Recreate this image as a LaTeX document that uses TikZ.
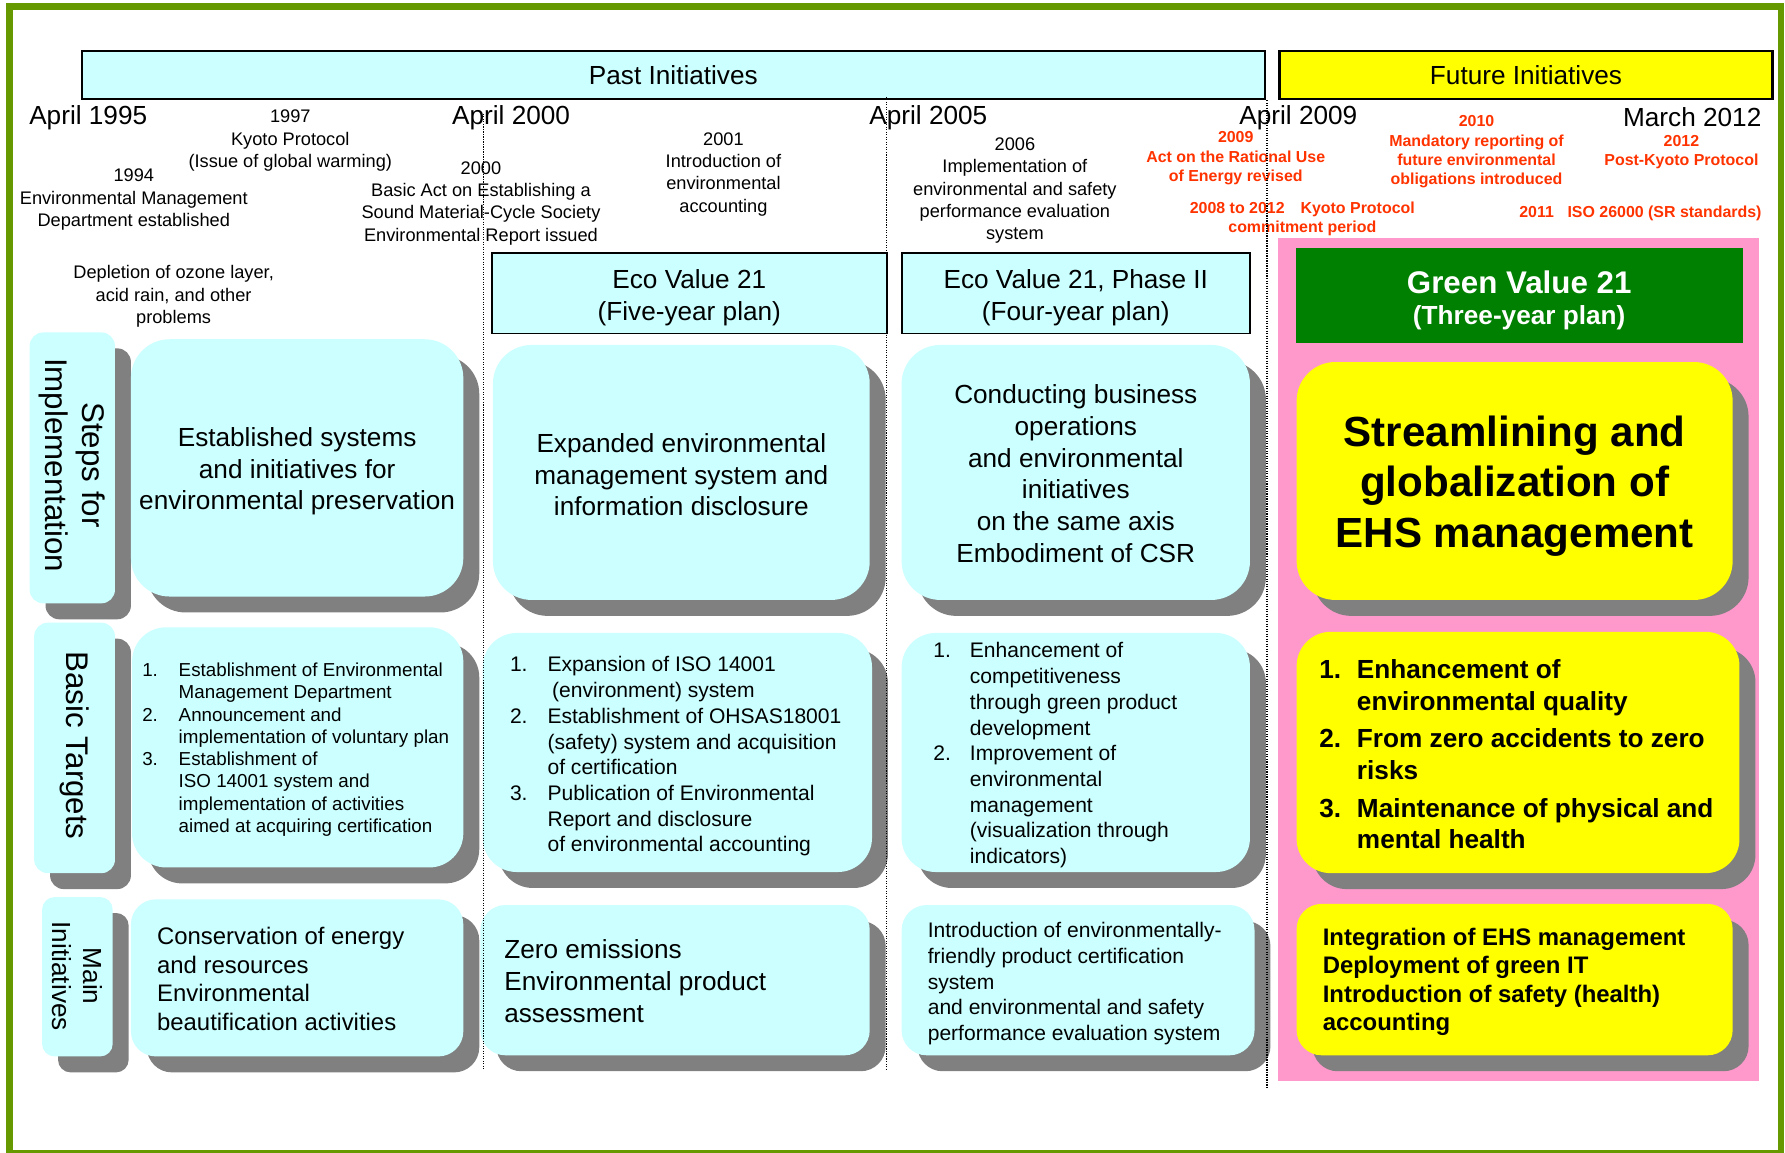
\documentclass[tikz,border=0pt]{standalone}
\usepackage{fontspec}
\setmainfont{Liberation Sans}
\usetikzlibrary{shadows}

\definecolor{frameGreen}{HTML}{669900}
\definecolor{paleCyan}{HTML}{CCFFFF}
\definecolor{brightYellow}{HTML}{FFFF00}
\definecolor{planGreen}{HTML}{008000}
\definecolor{panelPink}{HTML}{FF99CC}
\definecolor{shadowGray}{HTML}{808080}
\definecolor{noteRed}{HTML}{FF3300}

\newcommand\setfs[2]{\fontsize{#1}{#2}\selectfont}
\newcommand\lnum[2]{\makebox[#1][l]{#2}}
\newcommand\contind[1]{\hspace*{#1}}

\tikzset{
  plate/.style={rounded corners=#1,
    drop shadow={shadow xshift=14pt, shadow yshift=-14pt, opacity=1, fill=shadowGray}},
  cyanplate/.style={plate=#1, fill=paleCyan},
  yellowplate/.style={plate=#1, fill=brightYellow},
  banner/.style={draw=black, line width=2.2pt, font=\setfs{23}{28}},
  planbox/.style={draw=black, line width=1.6pt, fill=paleCyan},
  plantext/.style={font=\setfs{23}{28}, align=center, yshift=-4pt},
  yearlabel/.style={font=\setfs{23}{28}, yshift=-3pt},
  note/.style={font=\setfs{16}{19.6}, align=center, yshift=-2.5pt},
  rednote/.style={font=\setfs{14}{17}\bfseries, text=noteRed, align=center, yshift=-2pt},
  sidelabel/.style={rotate=-90, align=center},
  centertext/.style={align=center},
  bodytext/.style={align=left, anchor=west},
  eraline/.style={line width=1pt, dash pattern=on 1pt off 1.2pt},
}

\begin{document}
\begin{tikzpicture}[x=1pt, y=-1pt, every node/.style={inner sep=0pt, outer sep=0pt}]
\useasboundingbox (0,0) rectangle (1568,1012);

% background panel of the future plan
\node[fill=panelPink, minimum width=422pt, minimum height=741pt] (panel) at (1334,579.5) {};

% period banners
\node[banner, fill=paleCyan, minimum width=1039pt, minimum height=42pt] (past) at (591.5,66) {Past Initiatives};
\node[banner, fill=brightYellow, minimum width=433pt, minimum height=42pt] (future) at (1340.5,66) {Future Initiatives};

% milestones on the time axis
\node[yearlabel] (y1995) at (77.5,100) {April 1995};
\node[yearlabel] (y2000) at (449,100) {April 2000};
\node[yearlabel] (y2005) at (815.5,100) {April 2005};
\node[yearlabel] (y2009) at (1140.5,100) {April 2009};
\node[yearlabel] (y2012) at (1486.5,100) {March 2012};

% events
\node[note] (e1997) at (255,121) {1997\\Kyoto Protocol\\(Issue of global warming)};
\node[note] (e1994) at (117.5,173) {1994\\Environmental Management\\Department established};
\node[note] (e2000) at (422.5,176) {2000\\Basic Act on Establishing a\\Sound Material-Cycle Society\\Environmental Report issued};
\node[note] (e2001) at (635.5,150.5) {2001\\Introduction of\\environmental\\accounting};
\node[note] (e2006) at (891.5,165) {2006\\Implementation of\\environmental and safety\\performance evaluation\\system};
\node[note] (ozone) at (152.5,258) {Depletion of ozone layer,\\acid rain, and other\\problems};

\node[rednote] (r2009) at (1085.5,137) {2009\\Act on the Rational Use\\of Energy revised};
\node[rednote] (r2008) at (1144,190) {2008 to 2012\hspace{14pt}Kyoto Protocol\\commitment period};
\node[rednote] (r2010) at (1297,131.5) {2010\\Mandatory reporting of\\future environmental\\obligations introduced};
\node[rednote] (r2012) at (1477,131.5) {2012\\Post-Kyoto Protocol};
\node[rednote] (r2011) at (1441,185) {2011\hspace{12pt}ISO 26000 (SR standards)};

% plan headers
\node[planbox, minimum width=347pt, minimum height=71pt] (eco1) at (605.5,257.5) {};
\node[plantext] (eco1text) at (eco1.center) {Eco Value 21\\(Five-year plan)};
\node[planbox, minimum width=306pt, minimum height=71pt] (eco2) at (945,257.5) {};
\node[plantext] (eco2text) at (eco2.center) {Eco Value 21, Phase II\\(Four-year plan)};
\node[fill=planGreen, minimum width=393pt, minimum height=83pt] (green) at (1334.5,259.5) {};
\node[text=white, font=\setfs{23}{27}\bfseries, align=center, yshift=-4.5pt] (greentext) at (green.center)
      {{\setfs{27.5}{27}Green Value 21}\\(Three-year plan)};

% row tabs
\node[cyanplate=12pt, minimum width=75pt, minimum height=238pt] (tabS) at (63.5,411) {};
\node[sidelabel, font=\setfs{27.5}{32}, xshift=-2.5pt] (tabStext) at (tabS.center) {Steps for\\Implementation};
\node[cyanplate=12pt, minimum width=71pt, minimum height=220pt] (tabB) at (65.5,657) {};
\node[sidelabel, font=\setfs{27.5}{32}, xshift=-2pt] (tabBtext) at (tabB.center) {Basic Targets};
\node[cyanplate=11pt, minimum width=62pt, minimum height=140pt] (tabM) at (68,858) {};
\node[sidelabel, font=\setfs{23}{27}, xshift=-0.5pt] (tabMtext) at (tabM.center) {Main\\Initiatives};

% steps for implementation
\node[cyanplate=34pt, minimum width=292pt, minimum height=226pt] (s1) at (261,411) {};
\node[centertext, font=\setfs{23}{28}, yshift=-3pt] (s1text) at (s1.center)
  {Established systems\\and initiatives for\\environmental preservation};
\node[cyanplate=34pt, minimum width=331pt, minimum height=224pt] (s2) at (598.5,415) {};
\node[centertext, font=\setfs{23}{28}, yshift=-2pt] (s2text) at (s2.center)
  {Expanded environmental\\management system and\\information disclosure};
\node[cyanplate=34pt, minimum width=306pt, minimum height=224pt] (s3) at (945,415) {};
\node[centertext, font=\setfs{23}{28}, yshift=-1pt] (s3text) at (s3.center)
  {Conducting business\\operations\\and environmental\\initiatives\\on the same axis\\Embodiment of CSR};
\node[yellowplate=34pt, minimum width=383pt, minimum height=209pt] (s4) at (1330.5,422.5) {};
\node[centertext, font=\setfs{37}{44.5}\bfseries, yshift=-4.5pt] (s4text) at (s4.center)
  {Streamlining and\\globalization of\\EHS management};

% basic targets
\node[cyanplate=30pt, minimum width=291pt, minimum height=211pt] (t1) at (261.5,656.5) {};
\node[bodytext, font=\setfs{16.5}{19.6}, xshift=9pt, yshift=-2pt] (t1text) at (t1.west)
  {\lnum{32pt}{1.}Establishment of Environmental\\
   \contind{32pt}Management Department\\
   \lnum{32pt}{2.}Announcement and\\
   \contind{32pt}implementation of voluntary plan\\
   \lnum{32pt}{3.}Establishment of\\
   \contind{32pt}ISO 14001 system and\\
   \contind{32pt}implementation of activities\\
   \contind{32pt}aimed at acquiring certification};

\node[cyanplate=30pt, minimum width=342pt, minimum height=210pt] (t2) at (595,661) {};
\node[bodytext, font=\setfs{18.5}{22.6}, xshift=24pt, yshift=-3.5pt] (t2text) at (t2.west)
  {\lnum{33pt}{1.}Expansion of ISO 14001\\
   \contind{37pt}(environment) system\\
   \lnum{33pt}{2.}Establishment of OHSAS18001\\
   \contind{33pt}(safety) system and acquisition\\
   \contind{33pt}of certification\\
   \lnum{33pt}{3.}Publication of Environmental\\
   \contind{33pt}Report and disclosure\\
   \contind{33pt}of environmental accounting};

\node[cyanplate=30pt, minimum width=306pt, minimum height=210pt] (t3) at (945,661) {};
\node[bodytext, font=\setfs{18.5}{22.6}, xshift=28pt, yshift=-2.5pt] (t3text) at (t3.west)
  {\lnum{32pt}{1.}Enhancement of\\
   \contind{32pt}competitiveness\\
   \contind{32pt}through green product\\
   \contind{32pt}development\\
   \lnum{32pt}{2.}Improvement of\\
   \contind{32pt}environmental\\
   \contind{32pt}management\\
   \contind{32pt}(visualization through\\
   \contind{32pt}indicators)};

\node[yellowplate=30pt, minimum width=389pt, minimum height=212pt] (t4) at (1333.5,661) {};
\node[bodytext, font=\setfs{23}{28}\bfseries, xshift=20pt, yshift=-1.5pt] (t4text) at (t4.west)
  {\lnum{33pt}{1.}Enhancement of\\
   \contind{33pt}environmental quality\\[5pt]
   \lnum{33pt}{2.}From zero accidents to zero\\
   \contind{33pt}risks\\[5pt]
   \lnum{33pt}{3.}Maintenance of physical and\\
   \contind{33pt}mental health};

% main initiatives
\node[cyanplate=22pt, minimum width=292pt, minimum height=138pt] (m1) at (261,859) {};
\node[bodytext, font=\setfs{21}{25}, xshift=23pt, yshift=-1pt] (m1text) at (m1.west)
  {Conservation of energy\\and resources\\Environmental\\beautification activities};
\node[cyanplate=22pt, minimum width=342pt, minimum height=132pt] (m2) at (593,861) {};
\node[bodytext, font=\setfs{23}{28}, xshift=21pt, yshift=-1pt] (m2text) at (m2.west)
  {Zero emissions\\Environmental product\\assessment};
\node[cyanplate=22pt, minimum width=310pt, minimum height=132pt] (m3) at (947,861) {};
\node[bodytext, font=\setfs{18.5}{22.6}, xshift=23pt, yshift=-3pt] (m3text) at (m3.west)
  {Introduction of environmentally-\\friendly product certification\\system\\and environmental and safety\\performance evaluation system};
\node[yellowplate=22pt, minimum width=383pt, minimum height=133pt] (m4) at (1330.5,860.5) {};
\node[bodytext, font=\setfs{21}{25}\bfseries, xshift=23pt, yshift=-2pt] (m4text) at (m4.west)
  {Integration of EHS management\\Deployment of green IT\\Introduction of safety (health)\\accounting};

% plan period dividers
\coordinate (d1a) at (425,100);  \coordinate (d1b) at (425,940);
\coordinate (d2a) at (779,85);   \coordinate (d2b) at (779,940);
\coordinate (d3a) at (1113,88);  \coordinate (d3b) at (1113,955);
\draw[eraline] (d1a) -- (d1b);
\draw[eraline] (d2a) -- (d2b);
\draw[eraline] (d3a) -- (d3b);

% outer frame
\node[draw=frameGreen, line width=6pt, minimum width=1556.5pt, minimum height=1007.5pt] (frame) at (786.25,509.25) {};
\end{tikzpicture}
\end{document}
